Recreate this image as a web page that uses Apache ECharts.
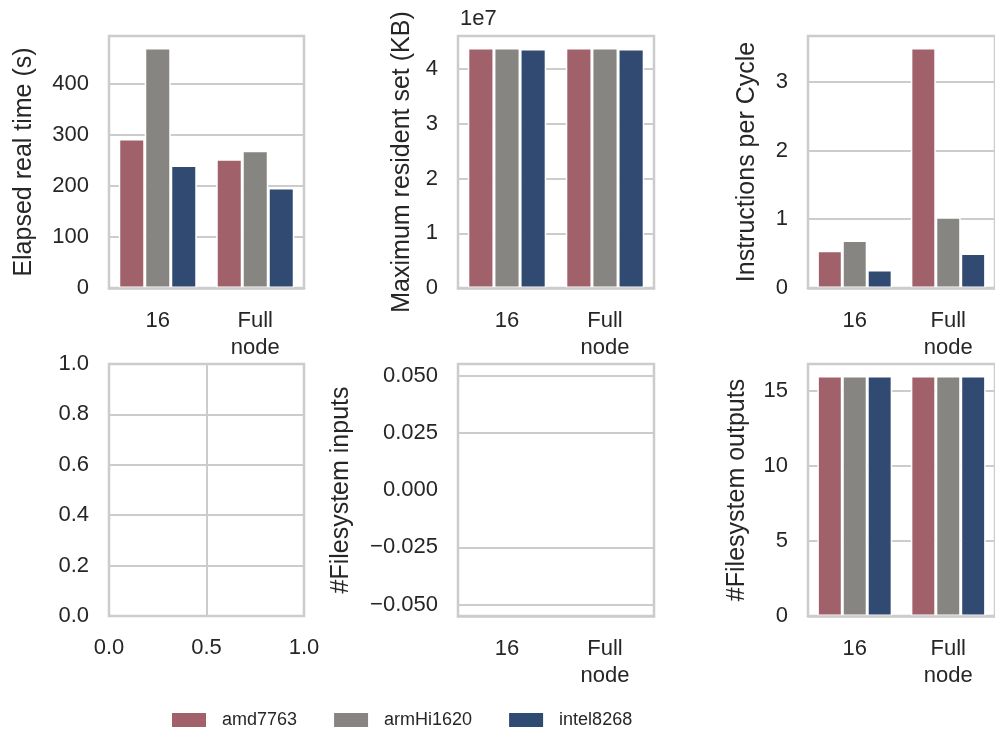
<!DOCTYPE html>
<html>
<head>
<meta charset="utf-8">
<script src="https://cdn.jsdelivr.net/npm/echarts@6/dist/echarts.min.js"></script>
<style>html,body{margin:0;padding:0;background:#fff}#c{width:995px;height:734px}</style>
</head>
<body>
<div id="c"></div>
<script>
// ---- data ----
const categories = ['16', 'Full\nnode'];
const seriesNames = ['amd7763', 'armHi1620', 'intel8268'];

const elapsedAmd = [292, 252];
const elapsedArm = [470, 269];
const elapsedIntel = [240, 196];

const rssAmd = [43850000, 43850000];
const rssArm = [43840000, 43840000];
const rssIntel = [43650000, 43650000];

const ipcAmd = [0.54, 3.49];
const ipcArm = [0.69, 1.03];
const ipcIntel = [0.26, 0.50];

const fsInAmd = [0, 0];
const fsInArm = [0, 0];
const fsInIntel = [0, 0];

const fsOutAmd = [16, 16];
const fsOutArm = [16, 16];
const fsOutIntel = [16, 16];

const elapsedTicks = [0, 100, 200, 300, 400];
const rssTicks = [0, 10000000, 20000000, 30000000, 40000000];
const ipcTicks = [0, 1, 2, 3];
const emptyXTicks = [0, 0.5, 1.0];
const emptyYTicks = [0, 0.2, 0.4, 0.6, 0.8, 1.0];
const fsInTicks = [-0.05, -0.025, 0, 0.025, 0.05];
const fsInGridTicks = [-0.05, -0.025, 0.025, 0.05]; // zero gridline is hidden behind the zero-height bars' white edges
const fsOutTicks = [0, 5, 10, 15];

// ---- style ----
const colors = ['#a1616a', '#868581', '#304a72'];
const FONT = 'Liberation Sans, Arial, sans-serif';
const TXT = '#262626';
const GRID_C = '#cccccc';

const panels = [
  {left: 109, top: 36, width: 195},
  {left: 458, top: 36, width: 196},
  {left: 808, top: 36, width: 195},
  {left: 109, top: 364, width: 195},
  {left: 458, top: 364, width: 196},
  {left: 808, top: 364, width: 195}
];

const grids = panels.map(p => ({
  left: p.left, top: p.top, width: p.width, height: 252,
  show: true, borderColor: GRID_C, borderWidth: 2.5, backgroundColor: '#fff',
  containLabel: false
}));

function catX(gi) {
  return {
    type: 'category', gridIndex: gi, data: categories, z: 3,
    axisLine: {show: true, onZero: false, lineStyle: {color: GRID_C, width: 2.5}},
    axisTick: {show: false},
    splitLine: {show: false},
    axisLabel: {color: TXT, fontSize: 22, fontFamily: FONT, margin: 19, lineHeight: 27, interval: 0}
  };
}
function valY(gi, name, gap, ticks, max, fmt, min, gridTicks) {
  return {
    type: 'value', gridIndex: gi, min: (min === undefined ? 0 : min), max: max,
    name: name, nameLocation: 'middle', nameGap: gap, nameRotate: 90,
    nameTextStyle: {color: TXT, fontSize: 25, fontFamily: FONT},
    axisLine: {show: false}, axisTick: {show: false, customValues: gridTicks || ticks},
    splitLine: {show: true, lineStyle: {color: GRID_C, width: 2}},
    axisLabel: {color: TXT, fontSize: 22, fontFamily: FONT, margin: 20,
      customValues: ticks, formatter: fmt || (v => String(v))}
  };
}
function maxOf(...arrs) { return Math.max(...arrs.flat()) * 1.05; }

const barCommon = {
  type: 'bar', barGap: '0%', barCategoryGap: '20%'
};
function bars(gi, arrs) {
  return arrs.map((d, i) => Object.assign({}, barCommon, {
    name: seriesNames[i], xAxisIndex: gi, yAxisIndex: gi, data: d,
    itemStyle: {color: colors[i], borderColor: '#ffffff', borderWidth: 1.5}
  }));
}

const option = {
  animation: false,
  backgroundColor: '#ffffff',
  textStyle: {fontFamily: FONT},
  grid: grids,
  xAxis: [
    catX(0), catX(1), catX(2),
    {
      type: 'value', gridIndex: 3, min: 0, max: 1, z: 0,
      axisLine: {show: false}, axisTick: {show: false, customValues: emptyXTicks},
      splitLine: {show: true, lineStyle: {color: GRID_C, width: 2}},
      axisLabel: {color: TXT, fontSize: 22, fontFamily: FONT, margin: 21,
        customValues: emptyXTicks, formatter: v => v.toFixed(1)}
    },
    catX(4), catX(5)
  ],
  yAxis: [
    valY(0, 'Elapsed real time (s)', 72, elapsedTicks, maxOf(elapsedAmd, elapsedArm, elapsedIntel)),
    valY(1, 'Maximum resident set (KB)', 43, rssTicks, maxOf(rssAmd, rssArm, rssIntel), v => String(Math.round(v / 1e7))),
    valY(2, 'Instructions per Cycle', 48, ipcTicks, maxOf(ipcAmd, ipcArm, ipcIntel)),
    valY(3, '', 50, emptyYTicks, 1, v => v.toFixed(1)),
    valY(4, '#Filesystem inputs', 104, fsInTicks, 0.055, v => (v < 0 ? '\u2212' : '') + Math.abs(v).toFixed(3), -0.055, fsInGridTicks),
    valY(5, '#Filesystem outputs', 58, fsOutTicks, maxOf(fsOutAmd, fsOutArm, fsOutIntel))
  ],
  legend: {
    left: 167, top: 706, orient: 'horizontal',
    icon: 'rect', itemWidth: 34, itemHeight: 14, itemGap: 37,
    selectedMode: false,
    textStyle: {color: TXT, fontSize: 18, fontFamily: FONT, padding: [0, 0, 0, 11]},
    data: seriesNames.map((n, i) => ({name: n, itemStyle: {color: colors[i], borderWidth: 0}}))
  },
  graphic: [
    {type: 'text', left: 460, top: 8, style: {text: '1e7', fill: TXT, fontSize: 22, fontFamily: FONT}}
  ],
  series: [].concat(
    bars(0, [elapsedAmd, elapsedArm, elapsedIntel]),
    bars(1, [rssAmd, rssArm, rssIntel]),
    bars(2, [ipcAmd, ipcArm, ipcIntel]),
    [{type: 'scatter', xAxisIndex: 3, yAxisIndex: 3, data: [], silent: true}],
    bars(4, [fsInAmd, fsInArm, fsInIntel]),
    bars(5, [fsOutAmd, fsOutArm, fsOutIntel])
  )
};

const chart = echarts.init(document.getElementById('c'), null, {renderer: 'canvas'});
chart.setOption(option);
</script>
</body>
</html>
